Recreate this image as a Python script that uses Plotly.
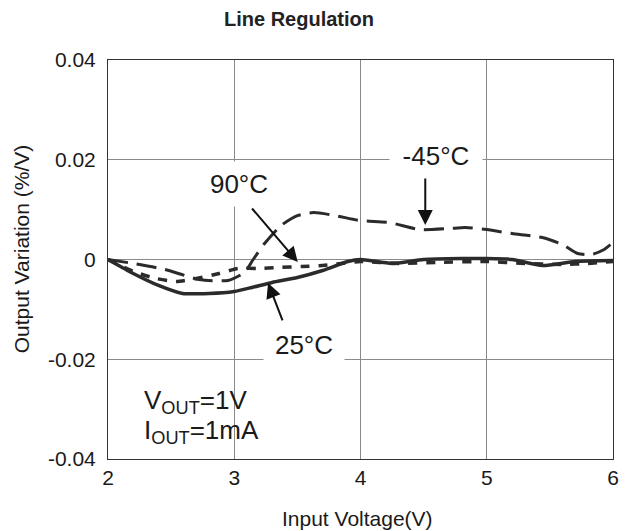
import plotly.graph_objects as go

x_25 = [2.0, 2.2, 2.4, 2.59, 2.8, 3.0, 3.14, 3.3, 3.5, 3.7, 3.9, 4.0, 4.25, 4.5, 4.8, 5.0, 5.2, 5.44, 5.7, 6.0]
y_25 = [0.0, -0.0028, -0.0052, -0.0068, -0.0068, -0.0064, -0.0056, -0.0046, -0.0036, -0.0022, -0.0004, 0.0, -0.0008, 0.0, 0.0002, 0.0002, 0.0, -0.0012, -0.0004, -0.0002]

x_m45 = [2.0, 2.2, 2.45, 2.72, 2.95, 3.08, 3.15, 3.24, 3.37, 3.5, 3.63, 3.8, 4.0, 4.23, 4.47, 4.7, 4.83, 5.0, 5.2, 5.44, 5.6, 5.72, 5.83, 5.93, 6.0]
y_m45 = [0.0, -0.0008, -0.002, -0.004, -0.0042, -0.0026, 0.0, 0.0032, 0.0068, 0.0088, 0.0094, 0.0088, 0.0078, 0.0074, 0.006, 0.0062, 0.0064, 0.006, 0.0052, 0.0044, 0.003, 0.0012, 0.001, 0.002, 0.0034]

x_90 = [2.0, 2.2, 2.38, 2.54, 2.7, 2.88, 3.03, 3.19, 3.35, 3.53, 3.7, 3.85, 4.0, 4.3, 4.6, 5.0, 5.3, 5.6, 5.8, 6.0]
y_90 = [0.0, -0.0024, -0.0038, -0.0044, -0.0038, -0.0028, -0.0018, -0.0018, -0.0016, -0.0014, -0.0012, -0.0008, -0.0004, -0.0008, -0.0006, -0.0004, -0.0008, -0.001, -0.0008, -0.0004]

x_ticks = [2, 3, 4, 5, 6]
y_ticks = [0.04, 0.02, 0, -0.02, -0.04]
y_tick_text = ["0.04", "0.02", "0", "-0.02", "-0.04"]

line_col = "#2b2b2b"
font = "Liberation Sans, Arial, sans-serif"
txt_col = "#1a1a1a"

fig = go.Figure()
fig.add_trace(go.Scatter(x=x_m45, y=y_m45, mode="lines", name="-45°C",
                         line=dict(color=line_col, width=3, dash="20px,9px", shape="spline", smoothing=0.6)))
fig.add_trace(go.Scatter(x=x_90, y=y_90, mode="lines", name="90°C",
                         line=dict(color=line_col, width=3.5, dash="9px,9px", shape="spline", smoothing=0.6)))
fig.add_trace(go.Scatter(x=x_25, y=y_25, mode="lines", name="25°C",
                         line=dict(color=line_col, width=3.5, shape="spline", smoothing=0.6)))

ann_font = dict(family=font, size=26, color=txt_col)
arrow = dict(text="", showarrow=True, arrowhead=2, arrowsize=1.5, arrowwidth=2,
             arrowcolor="#111111", standoff=0, xref="x", yref="y")
fig.update_layout(
    width=621, height=523,
    margin=dict(l=100, r=10, t=52, b=72),
    paper_bgcolor="white", plot_bgcolor="white",
    showlegend=False,
    title=dict(text="<b>Line Regulation</b>", x=0.4686, xanchor="center", y=0.979, yanchor="middle",
               font=dict(family=font, size=20, color="#222222")),
    xaxis=dict(range=[2, 6], tickvals=x_ticks, showgrid=True, gridcolor="#8a8a8a", gridwidth=1,
               showline=True, linecolor="#333333", linewidth=1, mirror=True, zeroline=False,
               ticks="", ticklabelstandoff=0, tickfont=dict(family=font, size=21, color=txt_col)),
    yaxis=dict(range=[-0.04, 0.04], tickvals=y_ticks, ticktext=y_tick_text, showgrid=True,
               gridcolor="#8a8a8a", gridwidth=1, showline=True, linecolor="#333333", linewidth=1,
               mirror=True, zeroline=False, ticks="", ticklabelstandoff=7,
               tickfont=dict(family=font, size=21, color=txt_col)),
    annotations=[
        dict(x=0.495, y=-0.1479, xref="paper", yref="paper", text="Input Voltage(V)", showarrow=False,
             xanchor="center", yanchor="middle", font=dict(family=font, size=21, color=txt_col)),
        dict(x=-0.172, y=0.526, xref="paper", yref="paper", text="Output Variation (%/V)", showarrow=False,
             textangle=-90, xanchor="center", yanchor="middle", font=dict(family=font, size=21, color=txt_col)),
        dict(x=3.041, y=0.0151, xref="x", yref="y", text="90°C", showarrow=False,
             font=ann_font, bgcolor="white", width=70, height=42),
        dict(arrow, x=3.503, y=-0.0005, ax=-47, ay=-55),
        dict(x=4.6, y=0.0208, xref="x", yref="y", text="-45°C", showarrow=False,
             font=ann_font, bgcolor="white", width=90, height=34),
        dict(arrow, x=4.513, y=0.0069, ax=0, ay=-48),
        dict(x=3.55, y=-0.0171, xref="x", yref="y", text="25°C", showarrow=False,
             font=ann_font, bgcolor="white", width=78, height=34),
        dict(arrow, x=3.268, y=-0.0047, ax=15, ay=39),
        dict(x=0.0665, y=-0.0284, xref="paper", yref="y", xanchor="left", text="V<sub>OUT</sub>=1V",
             showarrow=False, font=ann_font, align="left"),
        dict(x=0.0665, y=-0.0344, xref="paper", yref="y", xanchor="left", text="I<sub>OUT</sub>=1mA",
             showarrow=False, font=ann_font, align="left"),
    ],
)

fig.write_html("out.html")
